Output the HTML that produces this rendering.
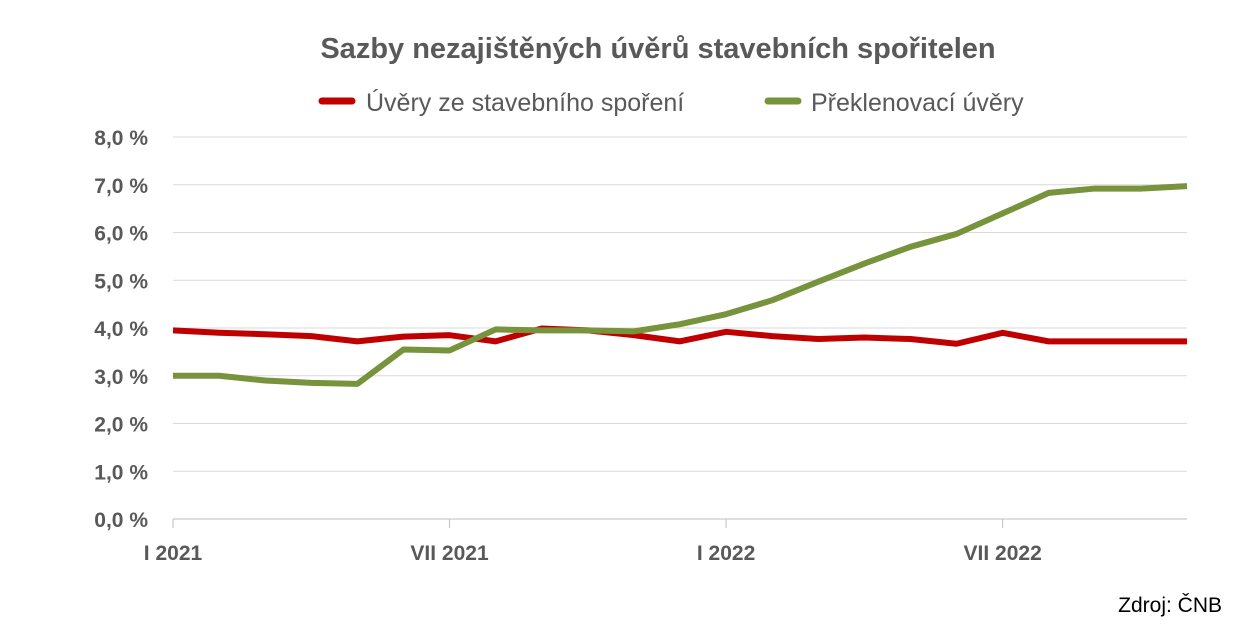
<!DOCTYPE html>
<html><head><meta charset="utf-8"><style>
body{margin:0;background:#fff;font-family:"Liberation Sans",sans-serif}
</style></head><body>
<svg width="1237" height="638" xmlns="http://www.w3.org/2000/svg">
<text x="658" y="58" text-anchor="middle" font-size="29" font-weight="bold" fill="#595959">Sazby nezajištěných úvěrů stavebních spořitelen</text>
<g>
<line x1="322" y1="101" x2="352" y2="101" stroke="#c00000" stroke-width="7" stroke-linecap="round"/>
<text x="366" y="111" font-size="25" fill="#595959">Úvěry ze stavebního spoření</text>
<line x1="768" y1="101" x2="798" y2="101" stroke="#77933c" stroke-width="7" stroke-linecap="round"/>
<text x="811" y="111" font-size="25" fill="#595959">Překlenovací úvěry</text>
</g>
<g id="grid"></g><g id="axes"></g><g id="series"></g>
<text x="1222" y="612" text-anchor="end" font-size="21" fill="#000">Zdroj: ČNB</text>
</svg>
<script>
const yTicks=[0,1,2,3,4,5,6,7,8];
const xLabels=["I 2021","VII 2021","I 2022","VII 2022"];
const xLabelIdx=[0,6,12,18];
const red=[3.95,3.9,3.87,3.83,3.72,3.82,3.85,3.72,3.99,3.95,3.85,3.72,3.92,3.83,3.77,3.8,3.77,3.67,3.9,3.72,3.72,3.72,3.72];
const green=[3.0,3.0,2.9,2.85,2.83,3.55,3.53,3.97,3.95,3.95,3.93,4.08,4.29,4.58,4.97,5.35,5.7,5.97,6.4,6.83,6.92,6.92,6.97];
const NS="http://www.w3.org/2000/svg";
const x0=173,x1=1187,y0=519,y8=137;
const X=i=>x0+i*(x1-x0)/(red.length-1);
const Y=v=>y0-v*(y0-y8)/8;
function mk(t,a,p){const e=document.createElementNS(NS,t);for(const k in a)e.setAttribute(k,a[k]);document.getElementById(p).appendChild(e);return e;}
yTicks.forEach(v=>{
 const l=mk("line",{x1:x0,x2:x1,y1:Y(v),y2:Y(v),stroke:v===0?"#bfbfbf":"#d9d9d9","stroke-width":1},"grid");
 
 
 const t=mk("text",{x:148,y:Y(v)+8,"text-anchor":"end","font-size":21,"font-weight":"bold",fill:"#595959"},"axes");
 t.textContent=v.toFixed(1).replace(".",",")+" %";
 
 
});
xLabelIdx.forEach((idx,j)=>{
 const l=mk("line",{x1:X(idx),x2:X(idx),y1:y0,y2:y0+9,stroke:"#bfbfbf"},"axes");
 
 
 const t=mk("text",{x:X(idx),y:560,"text-anchor":"middle","font-size":21,"font-weight":"bold",fill:"#595959"},"axes");
 t.textContent=xLabels[j];
 
 
});
function line(d,c,n){
 const p=mk("polyline",{points:d.map((v,i)=>X(i)+","+Y(v)).join(" "),fill:"none",stroke:c,"stroke-width":6,"stroke-linejoin":"round"},"series");
 
 
}
line(red,"#c00000","series-uvery-ze-stavebniho-sporeni");
line(green,"#77933c","series-preklenovaci-uvery");
</script>
</body></html>
